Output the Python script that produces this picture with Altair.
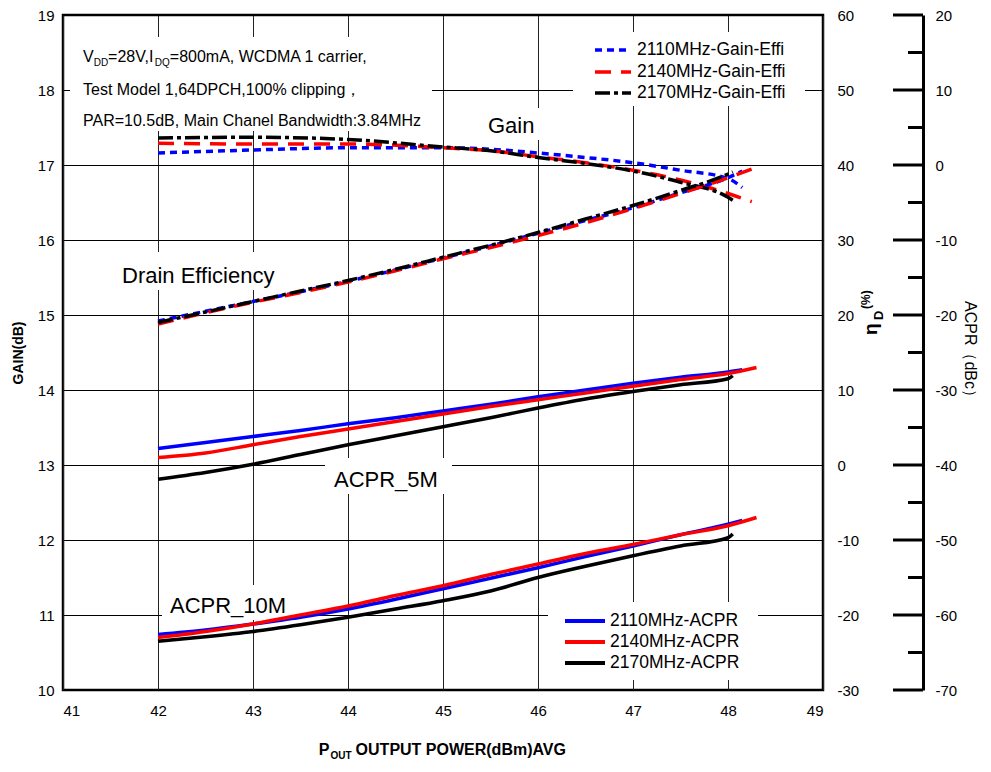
import altair as alt
import pandas as pd

# ---------------- data ----------------
GE_SERIES = ["2110MHz-Gain-Effi", "2140MHz-Gain-Effi", "2170MHz-Gain-Effi"]
AC_SERIES = ["2110MHz-ACPR", "2140MHz-ACPR", "2170MHz-ACPR"]

# Gain (dB)
gain_x_2110 = [42, 43, 44, 45, 45.5, 46, 46.5, 47, 47.5, 48, 48.15]
gain_2110 = [17.16, 17.20, 17.23, 17.23, 17.21, 17.16, 17.10, 17.03, 16.93, 16.82, 16.70]
gain_x_2140 = [42, 43, 44, 45, 45.5, 46, 46.5, 47, 47.5, 48, 48.25]
gain_2140 = [17.29, 17.28, 17.28, 17.23, 17.19, 17.11, 17.03, 16.93, 16.80, 16.62, 16.51]
gain_x_2170 = [42, 43, 44, 45, 45.5, 46, 46.5, 47, 47.5, 48, 48.05]
gain_2170 = [17.36, 17.37, 17.34, 17.24, 17.19, 17.10, 17.02, 16.92, 16.77, 16.57, 16.53]

# Drain efficiency (%)
eff_x_2110 = [42, 42.5, 43, 43.5, 44, 44.5, 45, 45.5, 46, 46.5, 47, 47.5, 48, 48.15]
eff_2110 = [19.2, 20.5, 21.8, 23.1, 24.5, 26.0, 27.6, 29.2, 30.9, 32.6, 34.3, 36.3, 38.3, 39.2]
eff_x_2140 = [42, 42.5, 43, 43.5, 44, 44.5, 45, 45.5, 46, 46.5, 47, 47.5, 48, 48.3]
eff_2140 = [18.8, 20.3, 21.7, 23.0, 24.4, 25.9, 27.5, 29.0, 30.6, 32.3, 34.2, 36.2, 38.3, 39.7]
eff_x_2170 = [42, 42.5, 43, 43.5, 44, 44.5, 45, 45.5, 46, 46.5, 47, 47.5, 48, 48.05]
eff_2170 = [19.0, 20.4, 21.8, 23.2, 24.6, 26.1, 27.7, 29.3, 31.0, 32.8, 34.6, 36.6, 38.8, 39.1]

# ACPR 5 MHz offset (dBc)
a5_x_2110 = [42, 42.5, 43, 43.5, 44, 44.5, 45, 45.5, 46, 46.5, 47, 47.5, 48, 48.15]
a5_2110 = [-37.8, -37.0, -36.2, -35.4, -34.5, -33.7, -32.8, -31.9, -30.9, -30.0, -29.1, -28.3, -27.6, -27.3]
a5_x_2140 = [42, 42.5, 43, 43.5, 44, 44.5, 45, 45.5, 46, 46.5, 47, 47.5, 48, 48.3]
a5_2140 = [-39.0, -38.4, -37.3, -36.2, -35.2, -34.2, -33.2, -32.2, -31.3, -30.4, -29.5, -28.6, -27.8, -27.0]
a5_x_2170 = [42, 42.5, 43, 43.5, 44, 44.5, 45, 45.5, 46, 46.5, 47, 47.5, 48, 48.05]
a5_2170 = [-41.9, -41.0, -39.9, -38.6, -37.3, -36.1, -34.9, -33.7, -32.4, -31.2, -30.2, -29.3, -28.5, -28.1]

# ACPR 10 MHz offset (dBc)
a10_x_2110 = [42, 42.5, 43, 43.5, 44, 44.5, 45, 45.5, 46, 46.5, 47, 47.5, 48, 48.15]
a10_2110 = [-62.6, -62.0, -61.2, -60.3, -59.2, -57.9, -56.5, -55.1, -53.7, -52.2, -50.8, -49.3, -47.9, -47.4]
a10_x_2140 = [42, 42.5, 43, 43.5, 44, 44.5, 45, 45.5, 46, 46.5, 47, 47.5, 48, 48.3]
a10_2140 = [-63.0, -62.2, -61.2, -60.0, -58.8, -57.4, -56.1, -54.6, -53.2, -51.8, -50.6, -49.3, -48.1, -47.0]
a10_x_2170 = [42, 42.5, 43, 43.5, 44, 44.5, 45, 45.5, 46, 46.5, 47, 47.5, 48, 48.05]
a10_2170 = [-63.5, -62.9, -62.2, -61.3, -60.3, -59.2, -58.1, -56.8, -55.0, -53.5, -52.1, -50.8, -49.7, -49.2]

x_ticks = [41, 42, 43, 44, 45, 46, 47, 48, 49]
gain_ticks = [10, 11, 12, 13, 14, 15, 16, 17, 18, 19]
eff_ticks = [-30, -20, -10, 0, 10, 20, 30, 40, 50, 60]
acpr_ticks = [-70, -60, -50, -40, -30, -20, -10, 0, 10, 20]
acpr_minor = [-65, -55, -45, -35, -25, -15, -5, 5, 15]

cond_lines = ["Test Model 1,64DPCH,100% clipping\uff0c",
              "PAR=10.5dB, Main Chanel Bandwidth:3.84MHz"]
cond_line1 = ["V", "DD", "=28V,I", "DQ", "=800mA, WCDMA 1 carrier,"]
annot_text = ["Gain", "Drain Efficiency", "ACPR_5M", "ACPR_10M"]

# ---------------- layout helpers (pixel -> data units of the plot) ----------------
W, H = 760, 675
def px2x(px):
    return 41 + (px - 63) / 95.0
def py2g(py):
    return 19 - (py - 15) / 75.0

AW = {' ': 278, '%': 889, '(': 333, ')': 333, ',': 278, '-': 333, '.': 278, ':': 278, '=': 584,
      'A': 667, 'B': 667, 'C': 722, 'D': 722, 'E': 667, 'H': 722, 'I': 278, 'M': 833, 'P': 667,
      'Q': 778, 'R': 722, 'T': 611, 'V': 667, 'W': 944, 'a': 556, 'c': 500, 'd': 556, 'e': 556,
      'i': 222, 'm': 833, 'n': 556, 'r': 333, 'z': 500}
ABW = {' ': 278, '(': 333, ')': 333, 'A': 722, 'B': 722, 'E': 667, 'G': 778, 'O': 778, 'P': 667,
       'R': 722, 'T': 611, 'U': 722, 'V': 667, 'W': 944, 'd': 611, 'm': 889}
def tw(s, size, table=AW):
    return sum(table.get(c, 556) for c in s) * size / 1000.0

FONT = "Liberation Sans"
BLUE, RED, BLACK = "#0000ff", "#ff0000", "#000000"

XS = alt.Scale(domain=[41, 49], nice=False, zero=False)
GS = alt.Scale(domain=[10, 19], nice=False, zero=False)
ES = alt.Scale(domain=[-30, 60], nice=False, zero=False)
AS = alt.Scale(domain=[-70, 20], nice=False, zero=False)

COLOR = alt.Color("series:N", scale=alt.Scale(domain=GE_SERIES + AC_SERIES,
                                              range=[BLUE, RED, BLACK, BLUE, RED, BLACK]), legend=None)
DASH = alt.StrokeDash("series:N", scale=alt.Scale(domain=GE_SERIES,
                                                  range=[[7, 5], [16, 10], [15, 4, 4, 4]]), legend=None)

x_axis = alt.Axis(values=x_ticks, grid=True, gridColor="#222222", gridWidth=1, tickSize=0, domain=False,
                  labelFontSize=15, labelPadding=13, title=None, labelExpr="'' + datum.value")
gain_axis = alt.Axis(orient="left", values=gain_ticks, grid=True, gridColor="#000000", gridWidth=1,
                     tickSize=0, domain=False, labelFontSize=15, labelPadding=9,
                     title="GAIN(dB)", titleFontWeight="bold", titleFontSize=14, titlePadding=12,
                     labelExpr="'' + datum.value")
eff_axis = alt.Axis(orient="right", values=eff_ticks, grid=False, tickSize=0, domain=False,
                    labelFontSize=15, labelPadding=14, title=None, labelExpr="'' + datum.value")
acpr_axis = alt.Axis(orient="right", offset=100, values=acpr_ticks, grid=False, tickSize=0, domain=True,
                     domainWidth=3, domainColor="#000000", labelFontSize=15, labelPadding=12,
                     title="ACPR\uff08dBc\uff09", titleFontSize=16, titleFontWeight="normal",
                     titlePadding=5, labelExpr="'' + datum.value")

def X(f="x"):
    return alt.X(f + ":Q", scale=XS, axis=x_axis)
def YG(f="v"):
    return alt.Y(f + ":Q", scale=GS, axis=gain_axis)
def YE(f="v"):
    return alt.Y(f + ":Q", scale=ES, axis=eff_axis)
def YA(f="v"):
    return alt.Y(f + ":Q", scale=AS, axis=acpr_axis)

def frame(xs, vs, name, band=""):
    return pd.DataFrame({"x": xs, "v": vs, "series": name, "band": band})

gain_df = pd.concat([frame(gain_x_2110, gain_2110, GE_SERIES[0]),
                     frame(gain_x_2140, gain_2140, GE_SERIES[1]),
                     frame(gain_x_2170, gain_2170, GE_SERIES[2])])
eff_df = pd.concat([frame(eff_x_2110, eff_2110, GE_SERIES[0]),
                    frame(eff_x_2140, eff_2140, GE_SERIES[1]),
                    frame(eff_x_2170, eff_2170, GE_SERIES[2])])
acpr_df = pd.concat([frame(a5_x_2110, a5_2110, AC_SERIES[0], "5M"),
                     frame(a5_x_2140, a5_2140, AC_SERIES[1], "5M"),
                     frame(a5_x_2170, a5_2170, AC_SERIES[2], "5M"),
                     frame(a10_x_2110, a10_2110, AC_SERIES[0], "10M"),
                     frame(a10_x_2140, a10_2140, AC_SERIES[1], "10M"),
                     frame(a10_x_2170, a10_2170, AC_SERIES[2], "10M")])

# white boxes behind texts / legends (hide grid lines like the original)
boxes = pd.DataFrame({
    "x": [px2x(p) for p in [70, 480, 115, 325, 162, 573, 548]],
    "x2": [px2x(p) for p in [432, 548, 292, 452, 302, 805, 758]],
    "y": [py2g(p) for p in [37, 108, 252, 458, 585, 32, 602]],
    "y2": [py2g(p) for p in [131, 140, 290, 494, 620, 106, 680]],
})

annot_df = pd.DataFrame({
    "text": annot_text,
    "x": [px2x(p) for p in [488, 122, 334, 170]],
    "y": [py2g(p) for p in [133, 283, 487, 613]],
})

# condition text (line 1 with subscripts)
MAIN, SUB = 16, 10
x0 = 83
pieces_main, pieces_sub = [], []
cur = x0
for i, s in enumerate(cond_line1):
    if i % 2 == 0:
        pieces_main.append({"text": s, "x": px2x(cur), "y": py2g(62)})
        cur += tw(s, MAIN)
    else:
        pieces_sub.append({"text": s, "x": px2x(cur), "y": py2g(66)})
        cur += tw(s, SUB)
for s, py in zip(cond_lines, [95, 126]):
    pieces_main.append({"text": s, "x": px2x(x0), "y": py2g(py)})
cond_main = pd.DataFrame(pieces_main)
cond_sub = pd.DataFrame(pieces_sub)

# manual legends
leg_ge = pd.DataFrame({"series": GE_SERIES,
                       "x": px2x(595), "x2": px2x(631), "xl": px2x(637),
                       "y": [py2g(p) for p in [50, 72, 93]]})
leg_ac = pd.DataFrame({"series": AC_SERIES,
                       "x": px2x(565), "x2": px2x(605), "xl": px2x(610),
                       "y": [py2g(p) for p in [621, 642, 663]]})

# ---------------- gain group ----------------
g_boxes = alt.Chart(boxes).mark_rect(fill="white", stroke=None).encode(
    x=X("x"), x2="x2:Q", y=YG("y"), y2="y2:Q")
g_lines = alt.Chart(gain_df).mark_line(strokeWidth=3.5, interpolate="monotone").encode(
    x=X(), y=YG(), color=COLOR, strokeDash=DASH, detail="series:N")
g_annot = alt.Chart(annot_df).mark_text(font=FONT, fontSize=22, align="left", baseline="alphabetic",
                                        color="black").encode(x=X("x"), y=YG("y"), text="text:N")
g_cond = alt.Chart(cond_main).mark_text(font=FONT, fontSize=MAIN, align="left", baseline="alphabetic",
                                        color="black").encode(x=X("x"), y=YG("y"), text="text:N")
g_csub = alt.Chart(cond_sub).mark_text(font=FONT, fontSize=SUB, align="left", baseline="alphabetic",
                                       color="black").encode(x=X("x"), y=YG("y"), text="text:N")
l1_sym = alt.Chart(leg_ge).mark_rule(strokeWidth=3.5).encode(
    x=X("x"), x2="x2:Q", y=YG("y"), color=COLOR, strokeDash=DASH)
l1_txt = alt.Chart(leg_ge).mark_text(font=FONT, fontSize=17.5, align="left", baseline="middle",
                                     color="black").encode(x=X("xl"), y=YG("y"), text="series:N")
l2_sym = alt.Chart(leg_ac).mark_rule(strokeWidth=4).encode(
    x=X("x"), x2="x2:Q", y=YG("y"), color=COLOR)
l2_txt = alt.Chart(leg_ac).mark_text(font=FONT, fontSize=17.5, align="left", baseline="middle",
                                     color="black").encode(x=X("xl"), y=YG("y"), text="series:N")

# x axis title with subscript (placed below the plot)
XT = 16
p_w = tw("P", XT, ABW)
out_w = tw("OUT", 10, ABW)
main_t = "OUTPUT POWER(dBm)AVG"
gap = 5
tot = p_w + out_w + gap + tw(main_t, XT, ABW)
xs0 = 380 - tot / 2
xt_df = pd.DataFrame({"text": ["P", main_t], "px": [xs0, xs0 + p_w + out_w + gap]})
xt_main = alt.Chart(xt_df).mark_text(font=FONT, fontSize=XT, fontWeight="bold", align="left",
                                     baseline="alphabetic", color="black").encode(
    x=alt.X("px:Q", scale=None), y=alt.value(740), text="text:N")
xt_sub = alt.Chart(pd.DataFrame({"text": ["OUT"], "px": [xs0 + p_w + 1]})).mark_text(
    font=FONT, fontSize=10, fontWeight="bold", align="left", baseline="alphabetic", color="black").encode(
    x=alt.X("px:Q", scale=None), y=alt.value(744), text="text:N")

gain_group = alt.layer(g_boxes, g_lines, g_annot, g_cond, g_csub, l1_sym, l1_txt, l2_sym, l2_txt,
                       xt_main, xt_sub)

# ---------------- efficiency group ----------------
e_lines = alt.Chart(eff_df).mark_line(strokeWidth=3.5, interpolate="monotone").encode(
    x=X(), y=YE(), color=COLOR, strokeDash=DASH, detail="series:N")
eta_df = pd.DataFrame({"text": ["\u03b7"], "px": [814], "py": [320]})
e_eta = alt.Chart(eta_df).mark_text(font=FONT, fontSize=19, fontWeight="bold", angle=270, align="left",
                                    baseline="alphabetic", color="black").encode(
    x=alt.X("px:Q", scale=None), y=alt.Y("py:Q", scale=None), text="text:N")
e_d = alt.Chart(pd.DataFrame({"text": ["D"], "px": [820], "py": [305]})).mark_text(
    font=FONT, fontSize=13, fontWeight="bold", angle=270, align="left", baseline="alphabetic",
    color="black").encode(x=alt.X("px:Q", scale=None), y=alt.Y("py:Q", scale=None), text="text:N")
e_pct = alt.Chart(pd.DataFrame({"text": ["(%)"], "px": [807], "py": [294]})).mark_text(
    font=FONT, fontSize=12, fontWeight="bold", angle=270, align="left", baseline="alphabetic",
    color="black").encode(x=alt.X("px:Q", scale=None), y=alt.Y("py:Q", scale=None), text="text:N")
eff_group = alt.layer(e_lines, e_eta, e_d, e_pct)

# ---------------- ACPR group ----------------
a_lines = alt.Chart(acpr_df).mark_line(strokeWidth=3.5, interpolate="monotone").encode(
    x=X(), y=YA(), color=COLOR, detail="band:N")
a_major = alt.Chart(pd.DataFrame({"v": acpr_ticks})).mark_rule(strokeWidth=3, color="black").encode(
    y=YA(), x=alt.value(W + 70), x2=alt.value(W + 100))
a_minor = alt.Chart(pd.DataFrame({"v": acpr_minor})).mark_rule(strokeWidth=3, color="black").encode(
    y=YA(), x=alt.value(W + 85), x2=alt.value(W + 100))
acpr_group = alt.layer(a_lines, a_major, a_minor)

chart = alt.layer(gain_group, eff_group, acpr_group).resolve_scale(
    y="independent"
).properties(
    width=W, height=H,
    autosize=alt.AutoSizeParams(type="none"),
    padding={"left": 55, "top": 7, "right": 158, "bottom": 73},
    background="white",
).configure_view(
    stroke="black", strokeWidth=2.5
).configure_axis(
    labelFont=FONT, titleFont=FONT, labelColor="black", titleColor="black"
)

chart.save("out.html", embed_options={"renderer": "svg", "actions": False})
